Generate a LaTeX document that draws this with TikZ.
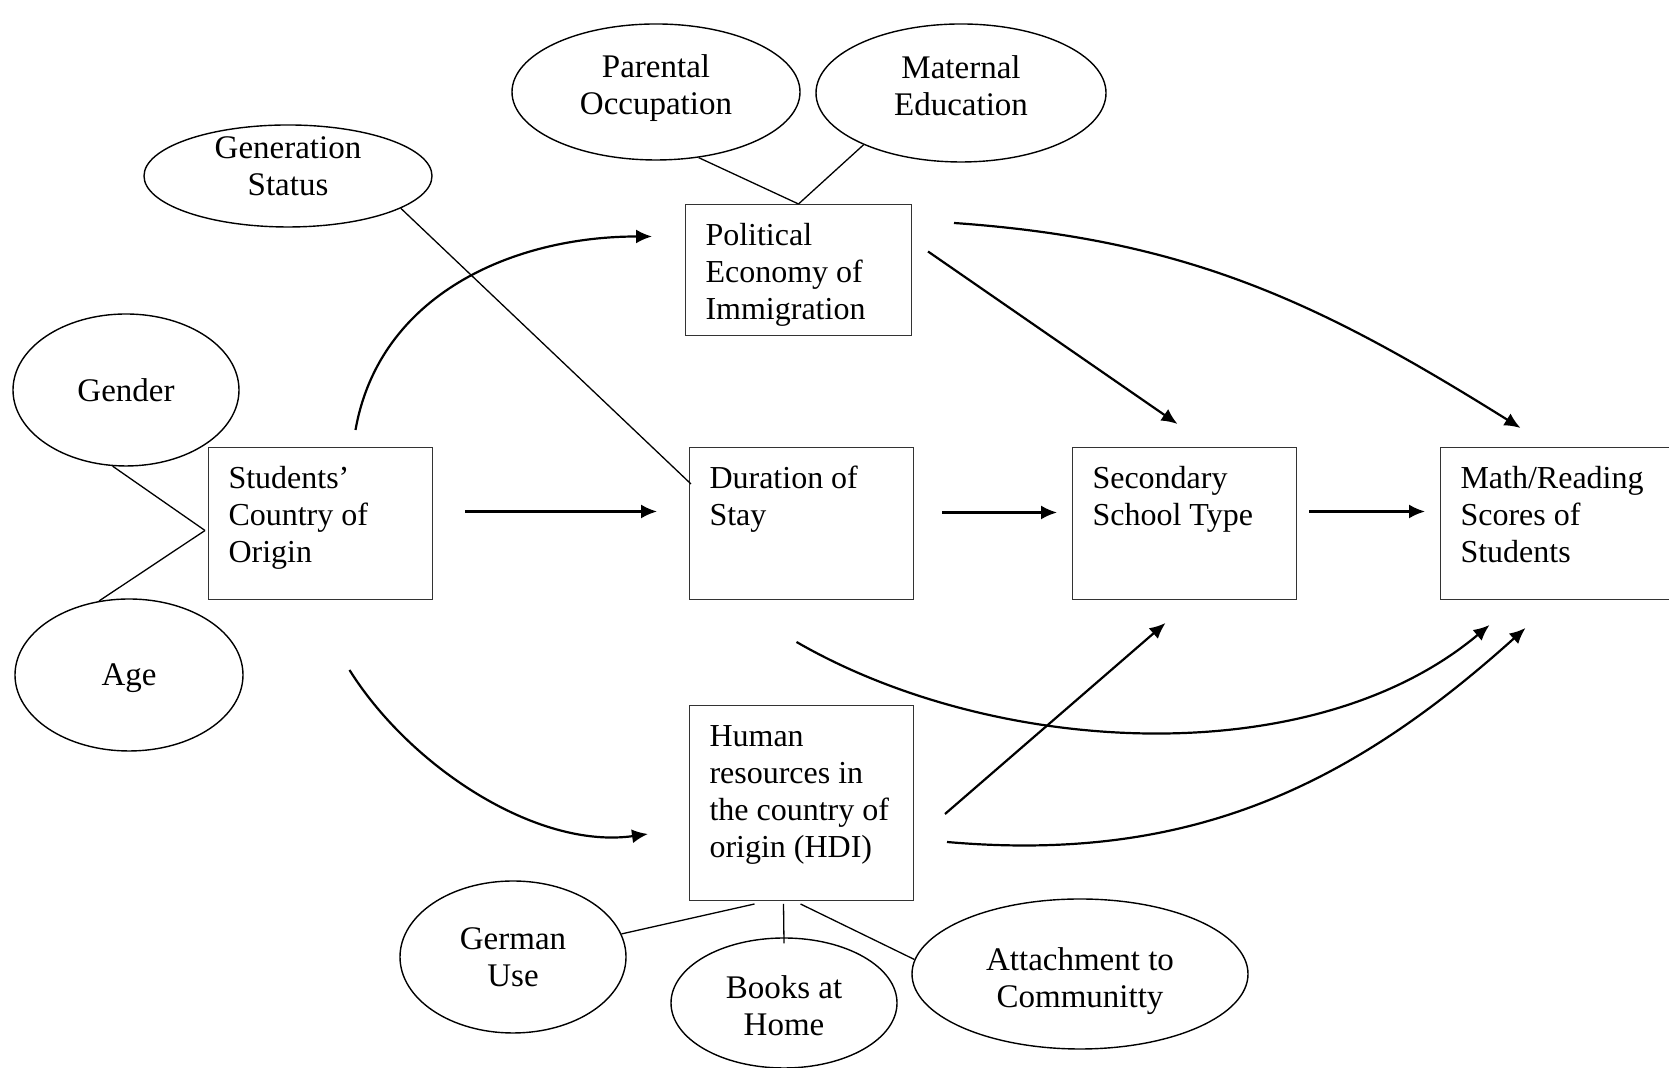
\documentclass[tikz,border=0pt]{standalone}
\usepackage{fontspec}
\setmainfont{Liberation Serif}
\usetikzlibrary{shapes.geometric,arrows.meta,calc}
\def\BoxText#1#2#3{\parbox[c][#2][t]{#1}{\raggedright\leftskip=10pt
  \rule{0pt}{20.5pt}#3}}
\tikzset{covar/.style={draw, ellipse, line width=0.7pt, inner sep=0pt,
           align=center, font=\fontsize{16.5}{18.5}\selectfont},
     construct/.style={draw=black!80, line width=0.5pt, inner sep=0pt,
           anchor=north west, font=\fontsize{16}{18.5}\selectfont},
     link/.style={line width=0.65pt},
     effect/.style={line width=1.1pt, -{Latex[length=8pt,width=7pt]}}
     }

\begin{document}
\begin{tikzpicture}[x=0.5pt,y=0.5pt]
\path[use as bounding box, fill=white] (0,0) rectangle (1669,1068);
% boxes
\node[construct] (polit) at (685,864) {\BoxText{113pt}{65.5pt}{Political\\Economy of\\Immigration}};
\node[construct] (origin) at (208,621) {\BoxText{112pt}{76pt}{Students’\\Country of\\Origin}};
\node[construct] (stay) at (689,621) {\BoxText{112pt}{76pt}{Duration of\\Stay}};
\node[construct] (school) at (1072,621) {\BoxText{112pt}{76pt}{Secondary\\School Type}};
\node[construct] (scores) at (1440,621) {\BoxText{116pt}{76pt}{Math/Reading\\Scores of\\Students}};
\node[construct] (hdi) at (689,363) {\BoxText{112pt}{97.5pt}{Human\\resources in\\the country of\\origin (HDI)}};
% ellipses
\node[covar, minimum width=144pt, minimum height=51pt, text height=19.2pt] (genstat) at (288,892) {Generation\\Status};
\node[covar, minimum width=144pt, minimum height=68pt, text height=25.6pt] (parocc) at (656,976) {Parental\\Occupation};
\node[covar, minimum width=145pt, minimum height=69pt, text height=22.4pt] (mated) at (961,975) {Maternal\\Education};
\node[covar, minimum width=113pt, minimum height=76pt] (gender) at (126,678) {Gender};
\node[covar, minimum width=114pt, minimum height=76pt, text height=14.1pt] (age) at (129,393) {Age};
\node[covar, minimum width=113pt, minimum height=76pt] (german) at (513,111) {German\\Use};
\node[covar, minimum width=113pt, minimum height=65pt, text height=33pt] (books) at (784,65) {Books at\\Home};
\node[covar, minimum width=168pt, minimum height=75pt, text height=37.2pt] (attach) at (1080,94) {Attachment to\\Communitty};
% plain links
\draw[link] (gender.-100) -- ($(origin.west)+(-3,-7)$);
\draw[link] (age.112) -- ($(origin.west)+(-3,-7)$);
\draw[link] (genstat.-16) -- ($(stay.north west)+(2,-37)$);
\draw[link] (parocc.-57) -- (polit.north);
\draw[link] (mated.208) -- (polit.north);
\draw[link] ($(hdi.south)+(-47,-3)$) -- (german.12);
\draw[link] ($(hdi.south)+(-18,-3)$) -- ($(books.north)+(0,-6)$);
\draw[link] ($(hdi.south)+(-1,-3)$) -- (attach.175);
% effects
\draw[effect] ($(origin.east)+(32,12)$) -- ($(stay.west)+(-32,12)$);
\draw[effect] ($(stay.east)+(28,11)$) -- ($(school.west)+(-15,11)$);
\draw[effect] ($(school.east)+(12,12)$) -- ($(scores.west)+(-15,12)$);
\draw[effect] ($(origin.north)+(35,17)$) to[out=80, in=180] ($(polit.west)+(-33,33.5)$);
\draw[effect] ($(origin.south)+(29,-70)$) to[out=-58, in=188, looseness=0.85] ($(hdi.west)+(-41,-31)$);
\draw[effect] ($(polit.east)+(16,18.5)$) -- ($(school.north)+(-7,23)$);
\draw[effect] ($(polit.north east)+(42,-19)$) to[out=-4, in=148] ($(scores.north)+(-36,19)$);
\draw[effect] ($(stay.south)+(-5,-42)$) to[out=-30, in=-140, looseness=0.85] ($(scores.south)+(-67,-25)$);
\draw[effect] ($(hdi.east)+(31,-11)$) -- ($(school.south)+(-19,-23)$);
\draw[effect] ($(hdi.east)+(33,-39)$) to[out=-5, in=-138] ($(scores.south)+(-31,-28)$);
\end{tikzpicture}
\end{document}
